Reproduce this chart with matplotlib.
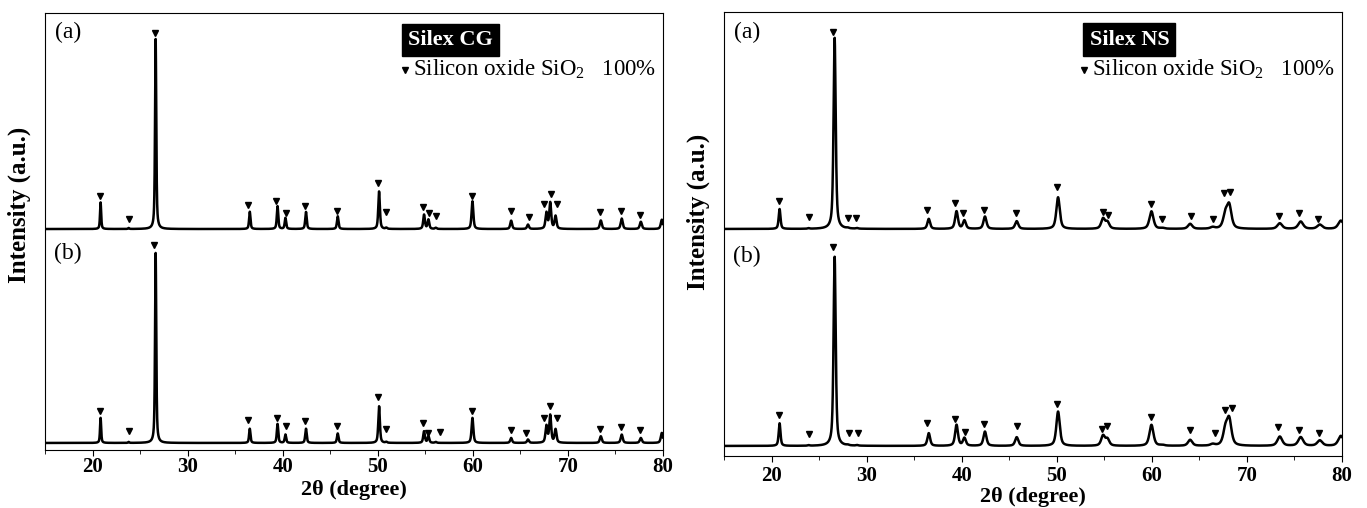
import numpy as np
import matplotlib
matplotlib.use("Agg")
import matplotlib.pyplot as plt
from matplotlib.ticker import MultipleLocator

plt.rcParams['font.family'] = ['Liberation Serif', 'DejaVu Serif']
plt.rcParams['mathtext.fontset'] = 'custom'
plt.rcParams['mathtext.rm'] = 'Liberation Serif'

# ---- data (intensity in a.u., main peak ~ 100) ----
# Silex CG
cg_a_pos = [20.85, 23.8, 26.64, 36.54, 39.46, 40.29, 42.45, 45.79, 50.14, 50.9, 54.87, 55.33, 56.1,
            59.96, 64.03, 65.8, 67.74, 68.14, 68.7, 73.46, 75.66, 77.67, 79.88]
cg_a_int = [14, 0.5, 100, 9.1, 12, 5.8, 9, 6.7, 19.8, 0.6, 7.5, 4.9, 0.6,
            14.6, 4.4, 2.3, 8.4, 13.7, 6.7, 4.5, 5.5, 3.8, 4.9]
cg_a_mark_x = [20.8, 23.8, 26.6, 36.4, 39.3, 40.3, 42.4, 45.7, 50.0, 50.9, 54.8, 55.4, 56.1,
               59.9, 64.0, 65.9, 67.5, 68.2, 68.8, 73.4, 75.6, 77.6]
cg_a_mark_y = [17.2, 5.3, 103, 12.5, 14.9, 8.4, 11.9, 9.6, 24.2, 9.1, 11.4, 8.4, 6.7,
               17.5, 9.6, 6.1, 13.3, 18.6, 13.3, 8.9, 9.6, 7.5]

cg_b_pos = cg_a_pos
cg_b_int = [13.2, 0.5, 100, 7.5, 10, 4.4, 7.5, 5, 19.3, 0.5, 6.1, 3.5, 0.5,
            13.2, 2.6, 1.8, 8.8, 14.4, 7, 3.5, 4.4, 2.6, 5.3]
cg_b_mark_x = [20.8, 23.8, 26.5, 36.4, 39.4, 40.3, 42.4, 45.7, 50.0, 50.9, 54.8, 55.3, 56.5,
               59.9, 64.0, 65.6, 67.5, 68.1, 68.8, 73.4, 75.6, 77.6]
cg_b_mark_y = [16.7, 6.1, 104, 12.3, 13.2, 8.8, 11.8, 9.1, 24.2, 7.5, 10.5, 5.3, 5.6,
               16.7, 6.7, 5.3, 13.2, 19.3, 13.2, 7.5, 8.4, 7]

# Silex NS
ns_pos = [20.85, 23.9, 26.64, 28.0, 29.0, 36.54, 39.46, 40.29, 42.45, 45.79, 50.14, 54.87, 55.33,
          59.96, 61.1, 64.03, 66.4, 67.74, 68.14, 73.46, 75.66, 77.67, 79.88]
ns_a_int = [10.3, 0.3, 99, 0.3, 0.3, 5.2, 9.1, 4.3, 6.4, 4, 16.4, 5.2, 3.4,
            9.1, 0.4, 2.6, 0.8, 7, 11.5, 2.9, 3.8, 2.2, 4.3]
ns_a_mark_x = [20.8, 23.9, 26.5, 28.0, 28.9, 36.4, 39.3, 40.1, 42.4, 45.7, 50.0, 54.9, 55.4,
               59.9, 61.1, 64.1, 66.4, 67.6, 68.2, 73.4, 75.5, 77.5]
ns_a_mark_y = [14.7, 6.4, 102, 5.7, 5.7, 10, 13.3, 8.3, 10, 8.1, 21.6, 9, 7.4,
               12.9, 5.2, 6.6, 5.2, 18.4, 19.3, 6.9, 8.3, 5.2]

ns_b_int = [11.7, 0.3, 98, 0.3, 0.3, 6.6, 10.9, 4, 7.4, 4.5, 17.8, 5.2, 3.4,
            10.9, 0.4, 3.1, 0.8, 8, 13, 4.8, 4.5, 2.8, 5.2]
ns_b_mark_x = [20.8, 23.9, 26.5, 28.2, 29.1, 36.4, 39.3, 40.4, 42.4, 45.8, 50.0, 54.8, 55.3,
               59.9, 64.0, 66.6, 67.7, 68.4, 73.3, 75.5, 77.6]
ns_b_mark_y = [16, 6.2, 103, 6.6, 6.9, 11.7, 14, 7.4, 11.2, 10.5, 21.7, 8.8, 10.3,
               14.8, 8.3, 6.6, 18.6, 19.5, 9.7, 8.3, 6.9]

two_theta = np.arange(15, 80.001, 0.01)


def profile(pos, inten, w0, dw, eta):
    # pseudo-Voigt sum of the read peaks, width growing slowly with angle
    y = np.zeros_like(two_theta)
    for p, h in zip(pos, inten):
        hw = (w0 + dw * (p - 20)) / 2.0
        d = (two_theta - p) / hw
        y += h * (eta / (1 + d ** 2) + (1 - eta) * np.exp(-np.log(2) * d ** 2))
    return y


def panel(ax, title, traces, w0, dw, eta, ylab_y, xlab_y, tick_pad):
    for pos, inten, mx, my, off in traces:
        ax.plot(two_theta, profile(pos, inten, w0, dw, eta) + off, color='black', lw=1.8)
        ax.plot(mx, np.array(my) + off, linestyle='none', marker='v', color='black', markersize=5)
    ax.set_xlim(15, 80)
    ax.set_ylim(0, 230)
    ax.set_yticks([])
    ax.xaxis.set_major_locator(MultipleLocator(10))
    ax.xaxis.set_minor_locator(MultipleLocator(5))
    ax.tick_params(axis='x', which='major', direction='out', length=4, labelsize=15, pad=tick_pad)
    ax.tick_params(axis='x', which='minor', direction='out', length=3)
    for lab in ax.get_xticklabels():
        lab.set_fontweight('bold')
    ax.set_xlabel('2θ (degree)', fontsize=16, fontweight='bold')
    ax.xaxis.set_label_coords(0.5, xlab_y)
    ax.set_ylabel('Intensity (a.u.)', fontsize=18, fontweight='bold')
    ax.yaxis.set_label_coords(-0.022, ylab_y)
    ax.text(0.016, 0.955, '(a)', transform=ax.transAxes, fontsize=17, va='center')
    ax.text(0.014, 0.45, '(b)', transform=ax.transAxes, fontsize=17, va='center')
    ax.text(0.656, 0.938, title, transform=ax.transAxes, fontsize=16, fontweight='bold',
            color='white', ha='center', va='center',
            bbox=dict(facecolor='black', edgecolor='black', boxstyle='square,pad=0.28'))
    ax.plot([0.583], [0.87], transform=ax.transAxes, marker='v', color='black', markersize=5)
    ax.text(0.596, 0.87, r'Silicon oxide SiO$\mathregular{_2}$   100%', transform=ax.transAxes,
            fontsize=16.5, va='center')


fig = plt.figure(figsize=(13.67, 5.08), dpi=100)
ax1 = fig.add_axes([0.0329, 0.1142, 0.4521, 0.8602])
ax2 = fig.add_axes([0.5296, 0.1024, 0.4521, 0.8740])

panel(ax1, 'Silex CG',
      [(cg_a_pos, cg_a_int, cg_a_mark_x, cg_a_mark_y, 116.3),
       (cg_b_pos, cg_b_int, cg_b_mark_x, cg_b_mark_y, 3.7)],
      w0=0.14, dw=0.002, eta=0.6, ylab_y=0.56, xlab_y=-0.068, tick_pad=1)
panel(ax2, 'Silex NS',
      [(ns_pos, ns_a_int, ns_a_mark_x, ns_a_mark_y, 117.6),
       (ns_pos, ns_b_int, ns_b_mark_x, ns_b_mark_y, 5.2)],
      w0=0.22, dw=0.007, eta=0.6, ylab_y=0.55, xlab_y=-0.07, tick_pad=3)

fig.savefig('out.png', dpi=100)
